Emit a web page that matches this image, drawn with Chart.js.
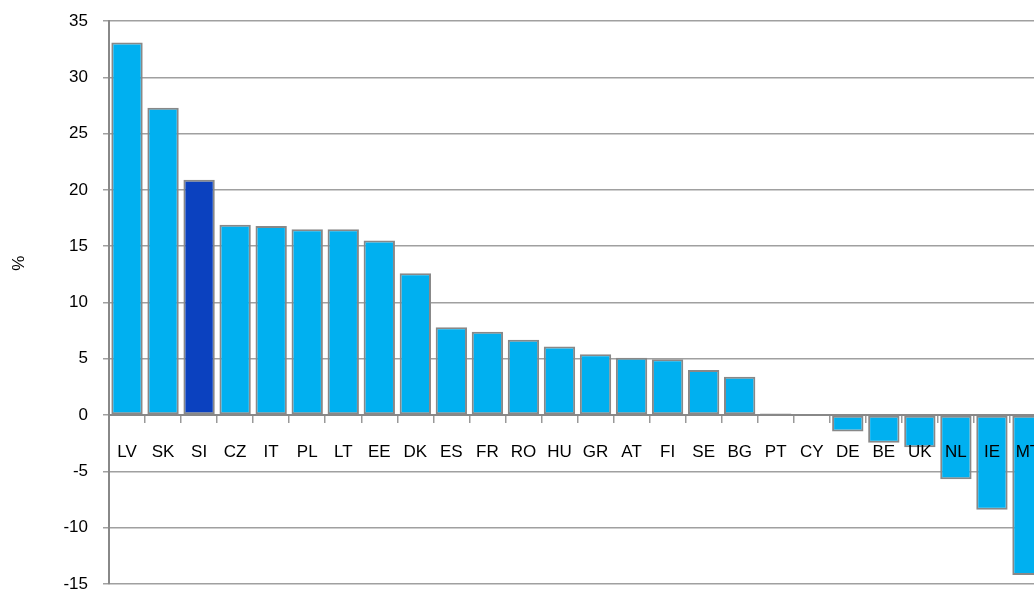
<!DOCTYPE html>
<html>
<head>
<meta charset="utf-8">
<script src="https://cdn.jsdelivr.net/npm/chart.js@4/dist/chart.umd.min.js"></script>
<style>
html,body{margin:0;padding:0;background:#fff;overflow:hidden;width:1034px;height:592px;}
canvas{display:block;}
</style>
</head>
<body>
<canvas id="c" width="1060" height="592"></canvas>
<script>
const categories = ["LV","SK","SI","CZ","IT","PL","LT","EE","DK","ES","FR","RO","HU","GR","AT","FI","SE","BG","PT","CY","DE","BE","UK","NL","IE","MT"];
const values = [33.1,27.3,20.9,16.9,16.8,16.5,16.5,15.5,12.6,7.8,7.4,6.7,6.1,5.4,5.1,4.95,4.0,3.4,0.15,0,-1.45,-2.45,-2.85,-5.7,-8.4,-14.2];
const highlight = "SI";
const yMin = -15, yMax = 35, yStep = 5;
const yTitle = "%";

const lightBlue = "#00B0F0";
const darkBlue = "#0B41BF";
const colors = categories.map(c => c === highlight ? darkBlue : lightBlue);

Chart.defaults.font.family = "'Liberation Sans', Arial, sans-serif";
Chart.defaults.color = "#000";

const yTitlePlugin = {
  id: "yTitle",
  afterDraw(chart) {
    const ctx = chart.ctx;
    const area = chart.chartArea;
    ctx.save();
    ctx.translate(19, area.top + (area.bottom - area.top) * 0.43);
    ctx.rotate(-Math.PI / 2);
    ctx.font = "17px 'Liberation Sans', Arial, sans-serif";
    ctx.fillStyle = "#000";
    ctx.textAlign = "center";
    ctx.textBaseline = "middle";
    ctx.fillText(yTitle, 0, 0);
    ctx.restore();
  }
};

new Chart(document.getElementById("c"), {
  type: "bar",
  data: {
    labels: categories,
    datasets: [{
      data: values,
      backgroundColor: colors,
      borderColor: "#888888",
      borderWidth: 2,
      borderSkipped: false,
      categoryPercentage: 1.0,
      barPercentage: 0.87
    }]
  },
  options: {
    responsive: false,
    animation: false,
    layout: { padding: { left: 0, right: 14, top: 21, bottom: 8 } },
    plugins: { legend: { display: false }, tooltip: { enabled: false } },
    scales: {
      x: {
        position: { y: 0 },
        afterFit: s => { s.height = 0; s.paddingLeft = 0; s.paddingRight = 0; },
        grid: { drawOnChartArea: false, drawTicks: true, tickLength: 7, offset: true, color: "#999999", lineWidth: 1.5 },
        border: { display: true, color: "#888888", width: 2 },
        ticks: { font: { size: 17 }, padding: 20, maxRotation: 0, autoSkip: false, color: "#000", z: 1 }
      },
      y: {
        min: yMin, max: yMax,
        afterFit: s => { s.width = 109; s.paddingTop = 0; s.paddingBottom = 0; },
        ticks: { stepSize: yStep, font: { size: 17 }, padding: 15, color: "#000" },
        grid: { color: "#a0a0a0", lineWidth: 1.5, tickLength: 6 },
        border: { display: true, color: "#888888", width: 2 }
      }
    }
  },
  plugins: [yTitlePlugin]
});
</script>
</body>
</html>
